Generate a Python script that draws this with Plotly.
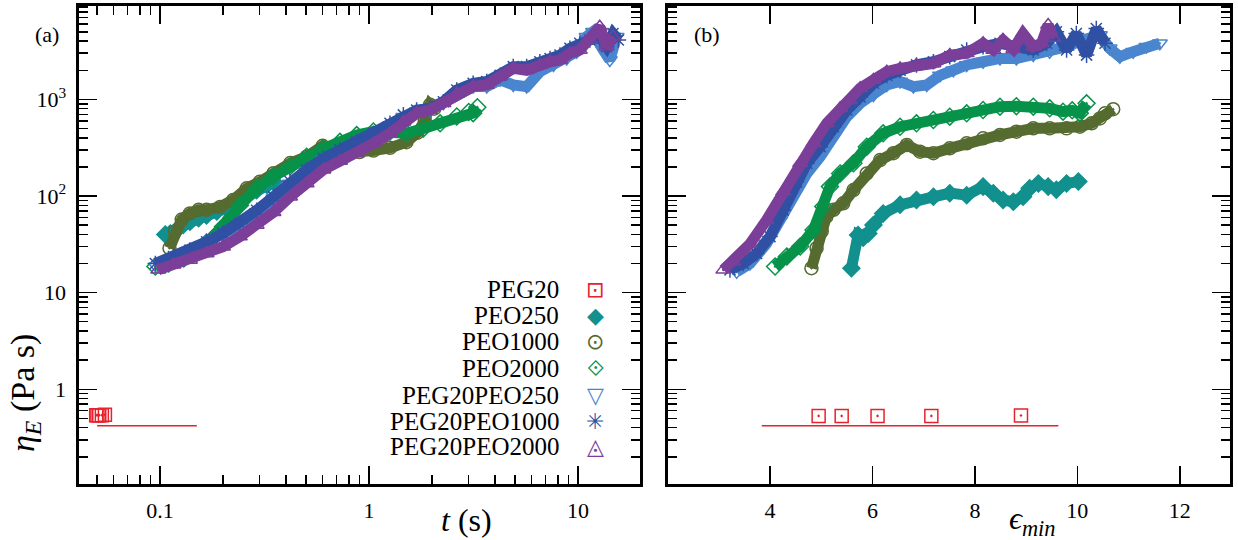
import plotly.graph_objects as go

# ---------------- data ----------------
SERIES = ["PEG20", "PEO250", "PEO1000", "PEO2000",
          "PEG20PEO250", "PEG20PEO1000", "PEG20PEO2000"]

# panel (a): eta_E (Pa s) versus t (s)
PEG20_t = [0.0495, 0.0502, 0.0512, 0.0527, 0.0545]
PEG20_eta_a = [0.54, 0.54, 0.54, 0.54, 0.545]
PEG20_fit_t = [0.05, 0.15]
PEG20_fit_eta = [0.42, 0.42]

PEO250_t = [0.106, 0.112, 0.120, 0.129, 0.139, 0.153, 0.167, 0.187,
            0.209, 0.233, 0.260, 0.290, 0.325, 0.349]
PEO250_eta_a = [40, 41, 44.5, 50, 54, 59, 63, 69, 74, 84, 99, 115, 130, 141]

PEO1000_t = [0.111, 0.118, 0.127, 0.139, 0.153, 0.167, 0.194, 0.224, 0.260,
             0.300, 0.349, 0.420, 0.503, 0.600, 0.750, 0.900, 1.05, 1.26,
             1.51, 1.70, 1.85, 1.96, 2.05]
PEO1000_eta_a = [28.8, 43, 57, 66, 72, 72, 77, 91, 120, 140, 172, 219, 255,
                 330, 280, 285, 295, 315, 360, 450, 600, 880, 800]

PEO2000_t = [0.095, 0.110, 0.130, 0.150, 0.167, 0.183, 0.200, 0.220, 0.241,
             0.290, 0.348, 0.420, 0.503, 0.605, 0.726, 0.873, 1.05, 1.26,
             1.51, 1.82, 2.19, 2.63, 3.00, 3.15, 3.30]
PEO2000_eta_a = [18.6, 20, 22.5, 26, 33, 38, 48, 60, 80, 120, 159, 203, 255,
                 309, 363, 427, 465, 465, 445, 500, 565, 665, 740, 720, 830]

PEG20PEO250_t = [0.096, 0.116, 0.139, 0.167, 0.200, 0.241, 0.290, 0.349,
                 0.419, 0.503, 0.605, 0.726, 0.873, 1.05, 1.26, 1.46, 1.69,
                 1.96, 2.27, 2.63, 3.15, 3.66, 4.24, 4.90, 5.68, 6.57, 7.63,
                 8.83, 9.85, 11.0, 11.8, 13.2, 14.2, 15.3]
PEG20PEO250_eta_a = [18.6, 22.7, 26.5, 32, 39.5, 50, 68, 95, 135, 180, 235,
                     290, 350, 428, 540, 660, 745, 775, 910, 1150, 1355,
                     1355, 1590, 1410, 1355, 1930, 2270, 2650, 3110, 4450,
                     5000, 3240, 2550, 4450]

PEG20PEO1000_t = [0.095, 0.116, 0.139, 0.167, 0.200, 0.241, 0.290, 0.349,
                  0.419, 0.503, 0.605, 0.726, 0.873, 1.05, 1.26, 1.46, 1.69,
                  1.96, 2.27, 2.63, 3.15, 3.66, 4.24, 4.90, 5.68, 6.57, 7.35,
                  8.20, 9.15, 10.2, 11.4, 12.7, 13.7, 14.7, 15.6]
PEG20PEO1000_eta_a = [20, 23.6, 27.5, 33.6, 41, 52, 71, 98, 141, 187, 245,
                      300, 365, 445, 565, 690, 776, 807, 945, 1250, 1465,
                      1530, 1770, 2180, 2180, 2450, 2650, 2870, 3370, 3800,
                      4110, 4450, 3510, 4800, 4110]

PEG20PEO2000_t = [0.098, 0.116, 0.139, 0.167, 0.200, 0.241, 0.290, 0.349,
                  0.419, 0.503, 0.605, 0.726, 0.873, 1.05, 1.26, 1.46, 1.69,
                  1.96, 2.27, 2.63, 3.15, 3.66, 4.24, 4.90, 5.68, 6.57, 7.35,
                  8.20, 9.15, 10.2, 11.4, 12.7, 13.7, 14.7]
PEG20PEO2000_eta_a = [17.2, 19.4, 21.8, 25.4, 29.9, 38, 50, 68, 98, 135, 187,
                      230, 275, 350, 445, 585, 715, 775, 910, 1150, 1355,
                      1410, 1720, 2090, 2000, 2270, 2450, 2550, 3000, 3240,
                      4110, 5630, 3510, 4450]

# panel (b): eta_E (Pa s) versus epsilon_min
PEG20_eps = [4.95, 5.40, 6.10, 7.15, 8.90]
PEG20_eta_b = [0.53, 0.53, 0.53, 0.53, 0.535]
PEG20_fit_eps = [3.84, 9.63]

PEO250_eps = [5.59, 5.72, 5.82, 5.92, 6.02, 6.21, 6.54, 6.86, 7.19, 7.51,
              7.84, 8.16, 8.36, 8.55, 8.75, 8.94, 9.07, 9.24, 9.43, 9.59,
              9.79, 10.02]
PEO250_eta_b = [17.9, 39.5, 37, 41, 50, 66, 81, 91, 98, 107, 102, 125, 107,
                91, 87, 98, 120, 135, 125, 116, 135, 141]

PEO1000_eps = [4.81, 4.91, 5.01, 5.10, 5.24, 5.43, 5.63, 5.89, 6.15, 6.41,
               6.67, 6.93, 7.19, 7.51, 7.84, 8.16, 8.49, 8.81, 9.14, 9.46,
               9.79, 10.05, 10.28, 10.44, 10.54, 10.70]
PEO1000_eta_b = [17.9, 28.8, 43, 61, 72, 84, 115, 171, 235, 277, 337, 287,
                 277, 311, 351, 395, 428, 463, 501, 501, 501, 521, 565, 635,
                 716, 790]

PEO2000_eps = [4.10, 4.33, 4.59, 4.85, 5.04, 5.17, 5.37, 5.63, 5.89, 6.21,
               6.54, 6.86, 7.19, 7.51, 7.84, 8.16, 8.49, 8.81, 9.14, 9.46,
               9.72, 9.90, 10.05, 10.18]
PEO2000_eta_b = [18.6, 23.6, 30, 44.5, 78, 125, 171, 218, 324, 445, 521, 565,
                 611, 662, 716, 776, 840, 850, 840, 807, 745, 770, 720, 910]

PEG20PEO250_eps = [3.35, 3.61, 3.93, 4.20, 4.46, 4.72, 4.98, 5.24, 5.50,
                   5.76, 6.02, 6.28, 6.54, 6.80, 7.06, 7.32, 7.58, 7.84,
                   8.16, 8.49, 8.81, 9.14, 9.46, 9.79, 10.11, 10.44, 10.63,
                   10.83, 11.09, 11.35, 11.61]
PEG20PEO250_eta_b = [16.4, 20, 32, 56, 102, 171, 254, 410, 660, 910, 1110,
                     1410, 1530, 1355, 1410, 1770, 2000, 2270, 2450, 2650,
                     2650, 2870, 3110, 3510, 4110, 4620, 3370, 2760, 3110,
                     3510, 3800]

PEG20PEO1000_eps = [3.22, 3.48, 3.74, 4.00, 4.26, 4.52, 4.72, 4.98, 5.24,
                    5.50, 5.76, 6.02, 6.28, 6.54, 6.86, 7.19, 7.51, 7.84,
                    8.16, 8.49, 8.81, 9.14, 9.40, 9.59, 9.79, 9.98, 10.18,
                    10.37, 10.54]
PEG20PEO1000_eta_b = [17.2, 20, 25.4, 38, 71.5, 140, 218, 324, 521, 776,
                      1060, 1465, 1770, 2000, 2270, 2450, 2770, 3240, 3510,
                      3800, 3510, 3240, 3800, 5000, 3240, 4800, 2870, 5400,
                      3800]

PEG20PEO2000_eps = [3.09, 3.28, 3.61, 3.93, 4.26, 4.59, 4.85, 5.11, 5.37,
                    5.56, 5.76, 6.02, 6.28, 6.54, 6.86, 7.19, 7.51, 7.84,
                    8.16, 8.36, 8.55, 8.75, 8.94, 9.14, 9.30, 9.43, 9.53]
PEG20PEO2000_eta_b = [17.2, 21, 32, 56, 111, 218, 351, 565, 807, 980, 1300,
                      1590, 1930, 2090, 2270, 2350, 2870, 2990, 3800, 3240,
                      4110, 3300, 4800, 3510, 3800, 5880, 4300]

# tick labels
X1_TICKS = [0.1, 1, 10]
X1_TICKTEXT = ["0.1", "1", "10"]
X2_TICKS = [4, 6, 8, 10, 12]
X2_TICKTEXT = ["4", "6", "8", "10", "12"]
Y_TICKS = [1, 10, 100, 1000]
Y_TICKTEXT = ["1", "10", "10<sup>2</sup>", "10<sup>3</sup>"]

# ---------------- styles ----------------
COLORS = ["#e8212b", "#11908e", "#556b2f", "#07924a",
          "#4a86cf", "#3050a3", "#7b3f99"]
SYMBOLS = ["square-open-dot", "diamond", "circle-open-dot", "diamond-open-dot",
           "triangle-down-open-dot", "asterisk-open", "triangle-up-open-dot"]
GLYPHS = ["\u22a1", "\u25c6", "\u2299", "\u27d0", "\u25bd", "\u2733", "\u25ec"]

FONT = "Liberation Serif"
W, H = 1238, 540

series_a = [(PEO250_t, PEO250_eta_a), (PEO1000_t, PEO1000_eta_a),
            (PEO2000_t, PEO2000_eta_a), (PEG20PEO250_t, PEG20PEO250_eta_a),
            (PEG20PEO1000_t, PEG20PEO1000_eta_a),
            (PEG20PEO2000_t, PEG20PEO2000_eta_a)]
series_b = [(PEO250_eps, PEO250_eta_b), (PEO1000_eps, PEO1000_eta_b),
            (PEO2000_eps, PEO2000_eta_b), (PEG20PEO250_eps, PEG20PEO250_eta_b),
            (PEG20PEO1000_eps, PEG20PEO1000_eta_b),
            (PEG20PEO2000_eps, PEG20PEO2000_eta_b)]

fig = go.Figure()


def add_panel(xs_fit, xs_sq, eta_sq, series, xa, ya):
    fig.add_trace(go.Scatter(x=xs_fit, y=PEG20_fit_eta, mode="lines",
                             line=dict(color=COLORS[0], width=1.5),
                             xaxis=xa, yaxis=ya, showlegend=False))
    fig.add_trace(go.Scatter(x=xs_sq, y=eta_sq, mode="markers",
                             marker=dict(symbol=SYMBOLS[0], size=13,
                                         color=COLORS[0],
                                         line=dict(width=1.5, color=COLORS[0])),
                             xaxis=xa, yaxis=ya, showlegend=False))
    for i, (xs, ys) in enumerate(series, start=1):
        fig.add_trace(go.Scatter(
            x=xs, y=ys, mode="lines+markers",
            line=dict(color=COLORS[i], width=11),
            marker=dict(symbol=SYMBOLS[i], size=13, color=COLORS[i],
                        line=dict(width=1.5, color=COLORS[i])),
            xaxis=xa, yaxis=ya, showlegend=False, name=SERIES[i]))


add_panel(PEG20_fit_t, PEG20_t, PEG20_eta_a, series_a, "x", "y")
add_panel(PEG20_fit_eps, PEG20_eps, PEG20_eta_b, series_b, "x2", "y2")

minor_log_x = [m * 10.0 ** e for e in (-2, -1, 0, 1) for m in range(2, 10)]
minor_log_y = [m * 10.0 ** e for e in (-1, 0, 1, 2, 3) for m in range(2, 10)]
minor_style = dict(tickmode="array", ticks="inside", ticklen=9, tickwidth=1.5,
                   tickcolor="black", showgrid=False)

common = dict(showline=True, linewidth=3, linecolor="black", mirror="allticks",
              ticks="inside", ticklen=18, tickwidth=1.5, tickcolor="black",
              showgrid=False, zeroline=False,
              tickfont=dict(family=FONT, size=22, color="black"),
              ticklabelstandoff=5)


def px(x):
    return x / W


def py(y):
    return 1 - y / H


ydom = [py(483.5), py(5.5)]
fig.update_layout(
    width=W, height=H, autosize=False,
    margin=dict(l=0, r=0, t=0, b=0),
    paper_bgcolor="white", plot_bgcolor="white",
    font=dict(family=FONT, color="black"),
    xaxis=dict(type="log", range=[-1.390, 1.2976],
               domain=[px(78.5), px(640.2)], anchor="y",
               tickmode="array", tickvals=X1_TICKS, ticktext=X1_TICKTEXT,
               minor=dict(tickvals=minor_log_x, **minor_style), **common),
    yaxis=dict(type="log", range=[-0.975, 3.971], domain=ydom, anchor="x",
               tickmode="array", tickvals=Y_TICKS, ticktext=Y_TICKTEXT,
               minor=dict(tickvals=minor_log_y, **minor_style), **common),
    xaxis2=dict(type="linear", range=[2.0, 12.97],
                domain=[px(667.5), px(1229.5)], anchor="y2",
                tickmode="array", tickvals=X2_TICKS, ticktext=X2_TICKTEXT,
                **common),
    yaxis2=dict(type="log", range=[-0.975, 3.971], domain=ydom, anchor="x2",
                tickmode="array", tickvals=Y_TICKS, ticktext=Y_TICKTEXT,
                showticklabels=False,
                minor=dict(tickvals=minor_log_y, **minor_style), **common),
)

ann = [
    dict(text="(a)", x=px(47), y=py(35), font=dict(size=22)),
    dict(text="(b)", x=px(707), y=py(35), font=dict(size=22)),
    dict(text="<i>t</i> (s)", x=px(467), y=py(520), font=dict(size=32)),
    dict(text="<i>\u03f5</i><sub><i>min</i></sub>", x=px(1032), y=py(520),
         font=dict(size=32)),
    dict(text="<i>\u03b7</i><sub><i>E</i></sub> (Pa s)", x=px(25), y=py(393),
         textangle=-90, font=dict(size=34)),
]
legend_rows = [289, 315, 341, 368, 395, 421, 447]
for name, color, glyph, yrow in zip(SERIES, COLORS, GLYPHS, legend_rows):
    ann.append(dict(text=name, x=px(561), y=py(yrow), xanchor="right",
                    font=dict(size=25)))
    ann.append(dict(text=glyph, x=px(595), y=py(yrow),
                    font=dict(size=22, color=color, family="DejaVu Sans")))
for a in ann:
    a.setdefault("xanchor", "center")
    a.update(xref="paper", yref="paper", yanchor="middle", showarrow=False)
    a["font"].setdefault("family", FONT)
    a["font"].setdefault("color", "black")
fig.update_layout(annotations=ann)

fig.write_html("out.html",
               config={"displayModeBar": False, "staticPlot": True},
               post_script="document.body.style.margin='0';"
                           "document.body.style.overflow='hidden';")
